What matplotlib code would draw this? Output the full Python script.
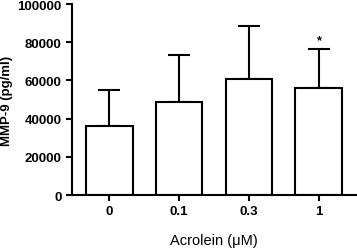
import matplotlib
matplotlib.use('Agg')
import matplotlib.pyplot as plt

plt.rcParams['font.family'] = ['Liberation Sans', 'DejaVu Sans']

doses = ['0', '0.1', '0.3', '1']
mmp9 = [36300, 48700, 60600, 55900]
err = [18500, 24600, 28000, 20400]
stars = ['', '', '', '*']

fig = plt.figure(figsize=(3.57, 2.51), dpi=100)
ax = fig.add_axes([0.202, 0.219, 0.795, 0.761])

x = range(len(doses))
ax.bar(x, mmp9, width=0.67, color='white', edgecolor='black', linewidth=1.5, zorder=2)
ax.errorbar(x, mmp9, yerr=[[0] * len(err), err], fmt='none', ecolor='black',
            elinewidth=1.5, capsize=8, capthick=1.5, zorder=1)
for i, s in enumerate(stars):
    if s:
        ax.text(i, mmp9[i] + err[i] + 1500, s, ha='center', va='bottom',
                fontsize=9, fontweight='bold')

ax.set_xlim(-0.53, 3.53)
ax.set_ylim(0, 100000)
ax.set_yticks([0, 20000, 40000, 60000, 80000, 100000])
ax.set_xticks(list(x))
ax.set_xticklabels(doses)
for sp in ['top', 'right']:
    ax.spines[sp].set_visible(False)
for sp in ['left', 'bottom']:
    ax.spines[sp].set_linewidth(1.5)
ax.tick_params(width=1.5, length=4, labelsize=9.5)
for lab in ax.get_xticklabels() + ax.get_yticklabels():
    lab.set_fontweight('bold')

ax.set_ylabel('MMP-9 (pg/ml)', fontsize=9.5, fontweight='bold', labelpad=3)
ax.set_xlabel('Acrolein (\u03bcM)', fontsize=10.5, labelpad=11)

fig.savefig('out.png', dpi=100)
